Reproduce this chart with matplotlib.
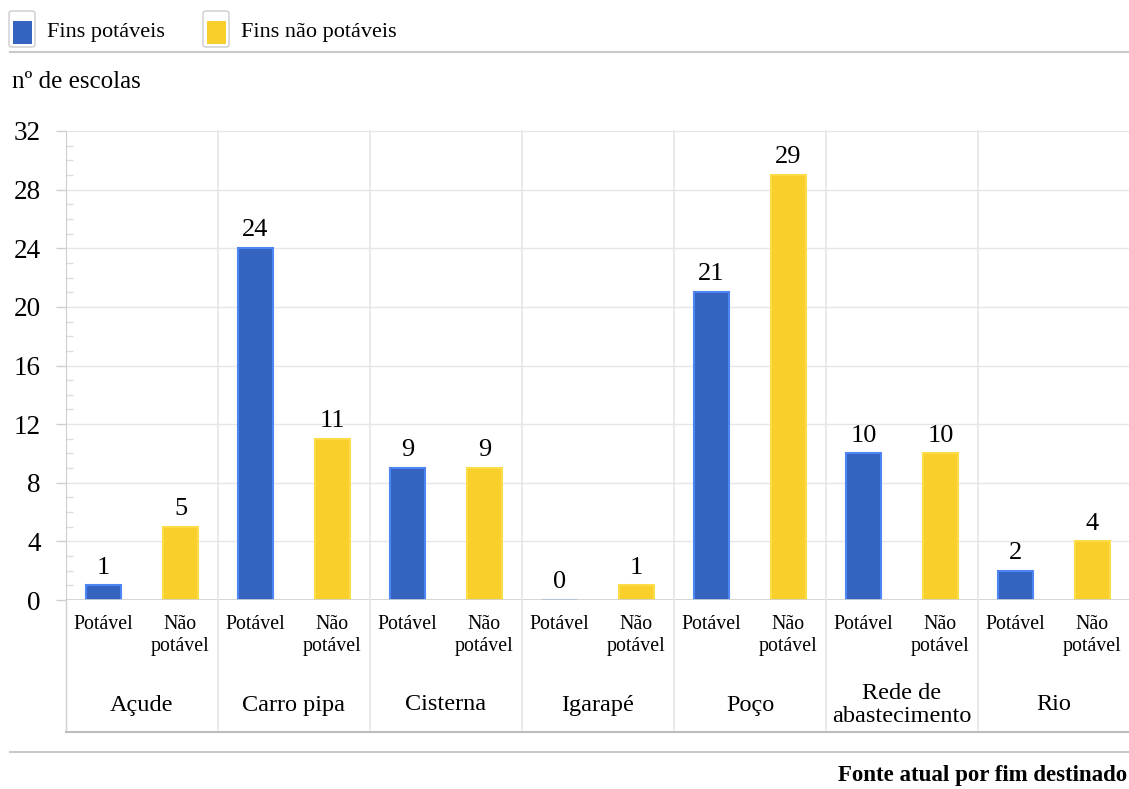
"""Água nas escolas: fonte atual por fim destinado."""

import matplotlib.pyplot as plt
import numpy as np
from matplotlib import transforms
from matplotlib.lines import Line2D
from matplotlib.patches import FancyBboxPatch, Rectangle
from matplotlib.ticker import MultipleLocator

plt.rcParams["font.family"] = ["Liberation Serif", "DejaVu Serif"]

fontes = ["Açude", "Carro pipa", "Cisterna", "Igarapé", "Poço",
          "Rede de\nabastecimento", "Rio"]
potavel = [1, 24, 9, 0, 21, 10, 2]
nao_potavel = [5, 11, 9, 1, 29, 10, 4]
sub_labels = ["Potável", "Não\npotável"]
series_labels = ["Fins potáveis", "Fins não potáveis"]
y_ticks = [0, 4, 8, 12, 16, 20, 24, 28, 32]

BLUE = "#3563c0"
BLUE_EDGE = "#4d86f2"
YELLOW = "#f9cf2c"
YELLOW_EDGE = "#fddc4a"
GRID = "#e6e6e6"
FRAME = "#cfcfcf"

W, H = 1129, 789
fig = plt.figure(figsize=(W / 100, H / 100), dpi=100)


def fy(py):
    """Pixel row (from top) to figure fraction."""
    return 1 - py / H


def fx(px):
    return px / W


ax = fig.add_axes([fx(66), fy(600), fx(1130) - fx(66), fy(131) - fy(600)])

x = np.arange(len(fontes))
offset = 0.253
width = 0.235
ax.bar(x - offset, potavel, width, color=BLUE, edgecolor=BLUE_EDGE, linewidth=1.5, zorder=3)
ax.bar(x + offset, nao_potavel, width, color=YELLOW, edgecolor=YELLOW_EDGE, linewidth=1.5, zorder=3)

for xs, vals in [(x - offset, potavel), (x + offset, nao_potavel)]:
    for xi, v in zip(xs, vals):
        ax.annotate(str(v), (xi, v), xytext=(0, 8.5), textcoords="offset points",
                    ha="center", va="baseline", fontsize=19)

ax.set_xlim(-0.5, len(fontes) - 0.5)
ax.set_ylim(0, 32)
ax.set_yticks(y_ticks)
ax.yaxis.set_minor_locator(MultipleLocator(1))
ax.tick_params(axis="y", which="major", length=7, width=1, color=FRAME,
               labelsize=19.5, pad=11, direction="out")
ax.tick_params(axis="y", which="minor", length=5, width=1, color="#dddddd",
               direction="in")
ax.set_xticks([])
ax.grid(axis="y", color=GRID, linewidth=1, zorder=0)
for s in ["top", "right", "bottom"]:
    ax.spines[s].set_visible(False)
ax.spines["left"].set_color(FRAME)
ax.axhline(32, color="#dcdcdc", linewidth=1.2, zorder=1)
ax.axhline(0, color=FRAME, linewidth=1.2, zorder=4)

# category area below the axis
trans = transforms.blended_transform_factory(ax.transData, fig.transFigure)
y_frame = fy(732)
for b in np.arange(0.5, len(fontes) - 0.5, 1):
    fig.add_artist(Line2D([b, b], [y_frame, fy(131)], transform=trans,
                          color=GRID, linewidth=1.2))
fig.add_artist(Line2D([fx(66), fx(66)], [y_frame, fy(600)], color=FRAME, linewidth=1))
fig.add_artist(Line2D([fx(66), 1], [y_frame, y_frame], color="#bdbdbd", linewidth=1.5))

for xi, nome in zip(x, fontes):
    fig.text(xi - offset, fy(615), sub_labels[0], transform=trans,
             ha="center", va="top", fontsize=14.3)
    fig.text(xi + offset, fy(615), sub_labels[1], transform=trans,
             ha="center", va="top", fontsize=14.3, linespacing=1.22)
    fig.text(xi, fy(705), nome, transform=trans, ha="center", va="center",
             fontsize=17.5, linespacing=1.12)

# header: legend and y title
fig.add_artist(Line2D([fx(10), 1], [fy(52), fy(52)], color="#c8c8c8", linewidth=1.5))
fig.add_artist(Line2D([fx(10), 1], [fy(752), fy(752)], color="#c8c8c8", linewidth=1.5))

for x0, color, label in [(9, BLUE, series_labels[0]), (203, YELLOW, series_labels[1])]:
    fig.add_artist(FancyBboxPatch((fx(x0), fy(47)), fx(26), fy(11) - fy(47),
                                  boxstyle="round,pad=0,rounding_size=0.003",
                                  facecolor="white", edgecolor="#cccccc", linewidth=1))
    fig.add_artist(Rectangle((fx(x0 + 4), fy(44)), fx(19), fy(21) - fy(44),
                             facecolor=color, edgecolor="none"))
    fig.text(fx(x0 + 38), fy(32), label, ha="left", va="center", fontsize=16)

fig.text(fx(12), fy(82), "nº de escolas", ha="left", va="center", fontsize=18)
fig.text(fx(1127), fy(776), "Fonte atual por fim destinado", ha="right",
         va="center", fontsize=16.5, fontweight="bold")

fig.savefig("out.png", dpi=100)
